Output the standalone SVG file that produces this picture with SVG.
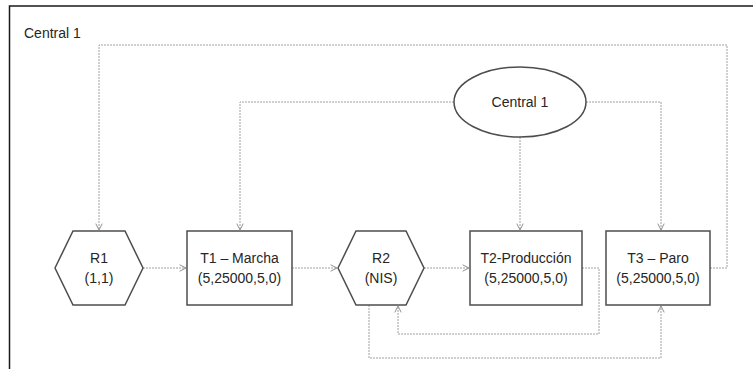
<svg xmlns="http://www.w3.org/2000/svg" width="753" height="369" viewBox="0 0 753 369">
  <style>
    .frame { fill: none; stroke: #1a1a1a; stroke-width: 1.5; }
    .node { fill: #ffffff; stroke: #4d4d4d; stroke-width: 1.5; }
    .lbl { font-family: "Liberation Sans", Arial, sans-serif; font-size: 14px; fill: #262626; text-anchor: middle; }
    .title { font-family: "Liberation Sans", Arial, sans-serif; font-size: 14px; fill: #262626; }
    .link { fill: none; stroke: #a0a0a0; stroke-width: 1; stroke-dasharray: 2 1; marker-end: url(#arrow); }
  </style>
  <defs>
    <marker id="arrow" viewBox="0 0 10 10" refX="9" refY="5" markerWidth="8" markerHeight="8" markerUnits="userSpaceOnUse" orient="auto">
      <path d="M1,1 L9,5 L1,9" fill="none" stroke="#8c8c8c" stroke-width="1.2"/>
    </marker>
  </defs>
  <rect width="753" height="369" fill="#ffffff"/>

  <!-- frame: top and left edges only -->
  <path class="frame" d="M753,6 H9.5 V369"/>
  <text class="title" x="24" y="38">Central 1</text>

  <g id="connectors">
    <!-- T3 back to R1 over the top -->
    <path class="link" d="M710,268 H727 V45 H99 V230"/>
    <!-- Central 1 to the tasks -->
    <path class="link" d="M454,102 H240 V230"/>
    <path class="link" d="M520,137 V230"/>
    <path class="link" d="M586,102 H661 V230"/>
    <!-- main flow -->
    <path class="link" d="M143,268 H186"/>
    <path class="link" d="M292,268 H337"/>
    <path class="link" d="M424,268 H469"/>
    <!-- T2 back to R2 -->
    <path class="link" d="M582,268 H599 V334 H398 V306"/>
    <!-- R2 to T3 underneath -->
    <path class="link" d="M369,305 V358 H661 V306"/>
  </g>

  <g id="central">
    <ellipse class="node" cx="520" cy="102" rx="66" ry="35"/>
    <text class="lbl" x="520" y="107">Central 1</text>
  </g>

  <g id="r1">
    <polygon class="node" points="55,268 73,231 125,231 143,268 125,305 73,305"/>
    <text class="lbl" x="99" y="263">R1</text>
    <text class="lbl" x="99" y="283">(1,1)</text>
  </g>

  <g id="t1">
    <rect class="node" x="187" y="231" width="105" height="74"/>
    <text class="lbl" x="239.5" y="263">T1 – Marcha</text>
    <text class="lbl" x="239.5" y="283">(5,25000,5,0)</text>
  </g>

  <g id="r2">
    <polygon class="node" points="338,268 356,231 406,231 424,268 406,305 356,305"/>
    <text class="lbl" x="381" y="263">R2</text>
    <text class="lbl" x="381" y="283">(NIS)</text>
  </g>

  <g id="t2">
    <rect class="node" x="470" y="231" width="112" height="74"/>
    <text class="lbl" x="526" y="263">T2-Producción</text>
    <text class="lbl" x="526" y="283">(5,25000,5,0)</text>
  </g>

  <g id="t3">
    <rect class="node" x="606" y="231" width="104" height="74"/>
    <text class="lbl" x="658" y="263">T3 – Paro</text>
    <text class="lbl" x="658" y="283">(5,25000,5,0)</text>
  </g>
</svg>
